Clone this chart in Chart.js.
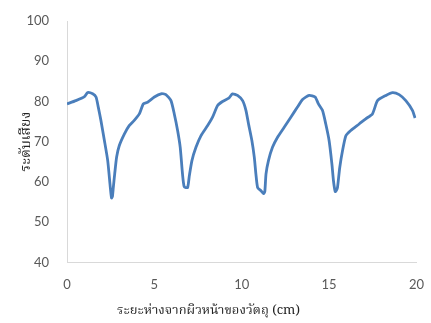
<!DOCTYPE html>
<html>
<head>
<meta charset="utf-8">
<script src="https://cdn.jsdelivr.net/npm/chart.js@4/dist/chart.umd.min.js"></script>
<style>
  html, body { margin: 0; padding: 0; background: #fff; }
  #wrap { width: 431px; height: 323px; }
</style>
</head>
<body>
<div id="wrap"><canvas id="lineChart"></canvas></div>
<script>
// distance from object surface (cm)
var distance = [0, 0.51, 1.0, 1.18, 1.47, 1.66, 1.79, 1.94, 2.14, 2.33, 2.48, 2.55, 2.6, 2.65, 2.73, 2.84, 2.99,
  3.28, 3.56, 3.85, 4.14, 4.37, 4.61, 5.0, 5.38, 5.66, 5.95, 6.14, 6.33, 6.48, 6.61, 6.71, 6.9,
  7.0, 7.15, 7.38, 7.67, 8.05, 8.33, 8.62, 8.9, 9.28, 9.47, 9.76, 10.05, 10.24, 10.39, 10.58, 10.72,
  10.81, 10.91, 11.1, 11.25, 11.32, 11.39, 11.53, 11.76, 12.05, 12.43, 12.81, 13.19, 13.48, 13.86, 14.2,
  14.39, 14.62, 14.81, 15.0, 15.16, 15.25, 15.35, 15.42, 15.48, 15.61, 15.77, 15.96, 16.24, 16.72, 17.1,
  17.48, 17.77, 18.25, 18.63, 19.01, 19.39, 19.77, 19.92];
// sound level
var level = [79.4, 80.2, 81.2, 82.2, 81.9, 81.1, 78.6, 75.3, 70.3, 65.3, 58.6, 56.0, 56.4, 58.6, 62.0, 66.2, 69.0,
  71.9, 74.0, 75.3, 76.9, 79.4, 79.8, 81.1, 81.9, 81.7, 80.2, 76.9, 72.8, 68.6, 62.0, 58.8, 58.6,
  61.5, 65.3, 68.6, 71.5, 74.0, 76.1, 79.0, 80.0, 80.9, 81.9, 81.5, 80.2, 77.8, 74.4, 70.3, 66.1,
  62.0, 58.6, 57.8, 57.1, 57.6, 62.0, 65.3, 68.6, 71.1, 73.6, 76.1, 78.6, 80.5, 81.5, 81.1,
  79.4, 77.8, 74.4, 70.3, 64.5, 60.3, 57.6, 57.9, 58.6, 63.6, 67.8, 71.5, 72.8, 74.4, 75.7,
  76.9, 80.2, 81.5, 82.2, 81.7, 80.2, 77.8, 75.9];
var xTicks = [0, 5, 10, 15, 20];
var yTicks = [40, 50, 60, 70, 80, 90, 100];

var thaiFont = "'Noto Serif Thai', 'Noto Sans Thai', 'TH Sarabun New', 'Tlwg Typo', 'Noto Sans', serif";
var points = distance.map(function (d, i) { return { x: d, y: level[i] }; });

var ctxL = document.getElementById("lineChart").getContext('2d');
var myLineChart = new Chart(ctxL, {
  type: 'scatter',
  data: {
    datasets: [{
      label: "ระดับเสียง",
      data: points,
      showLine: true,
      borderColor: '#4a7ebb',
      backgroundColor: '#4a7ebb',
      borderWidth: 2.8,
      pointRadius: 0,
      tension: 0.2,
      borderJoinStyle: 'round'
    }]
  },
  options: {
    responsive: true,
    maintainAspectRatio: false,
    animation: false,
    layout: { padding: { top: 21, right: 14, left: 0, bottom: 0 } },
    plugins: {
      legend: { display: false },
      tooltip: { enabled: false },
      title: {
        display: true,
        position: 'bottom',
        text: 'ระยะห่างจากผิวหน้าของวัตถุ (cm)',
        color: '#222',
        font: { family: thaiFont, size: 13, weight: 'normal' },
        padding: { top: 0, bottom: 3 }
      }
    },
    scales: {
      x: {
        type: 'linear',
        min: 0,
        max: 20,
        afterBuildTicks: function (s) { s.ticks = xTicks.map(function (v) { return { value: v }; }); },
        afterFit: function (s) { s.height = 42; },
        grid: { display: false },
        border: { display: true, color: '#d9d9d9', width: 1 },
        ticks: { color: '#595959', padding: 7, font: { family: 'Lato', size: 13 } }
      },
      y: {
        min: 40,
        max: 100,
        afterBuildTicks: function (s) { s.ticks = yTicks.map(function (v) { return { value: v }; }); },
        afterFit: function (s) { s.width = 67; },
        grid: { display: false },
        border: { display: true, color: '#d9d9d9', width: 1 },
        ticks: { color: '#595959', padding: 10, font: { family: 'Lato', size: 13 } },
        title: {
          display: true,
          text: 'ระดับเสียง',
          color: '#222',
          font: { family: thaiFont, size: 14, weight: 'normal' },
          padding: { top: 19, bottom: 0 }
        }
      }
    }
  }
});
</script>
</body>
</html>
